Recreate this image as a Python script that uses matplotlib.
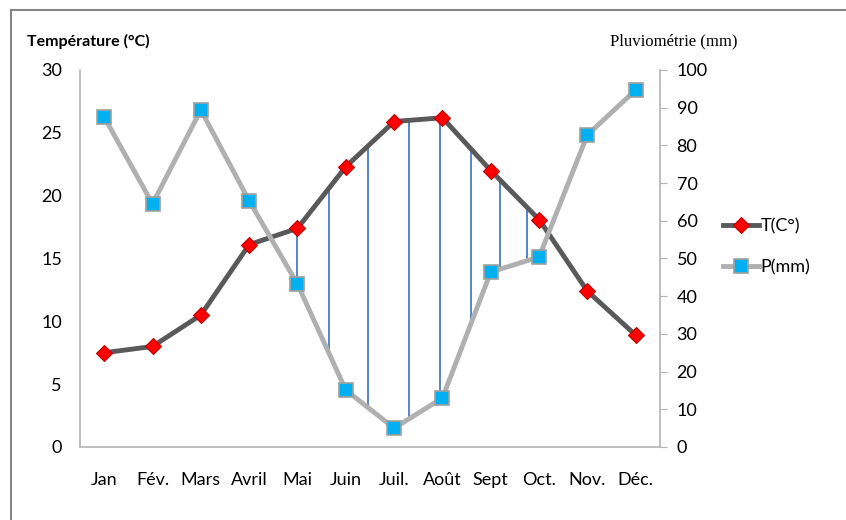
import numpy as np
import matplotlib
matplotlib.use('Agg')
import matplotlib.pyplot as plt
from matplotlib.lines import Line2D

# Données climatiques mensuelles
mois = ['Jan', 'Fév.', 'Mars', 'Avril', 'Mai', 'Juin', 'Juil.', 'Août', 'Sept', 'Oct.', 'Nov.', 'Déc.']
temperature = [7.5, 8.0, 10.5, 16.1, 17.4, 22.3, 25.9, 26.2, 22.0, 18.1, 12.4, 8.9]
pluie = [87.5, 64.5, 89.4, 65.3, 43.2, 15.1, 5.0, 13.0, 46.4, 50.4, 82.8, 94.7]
# positions (en mois) des hachures de la période sèche
hachures = [4.0, 4.65, 5.45, 6.3, 6.95, 7.6, 8.2, 8.75]

plt.rcParams['font.family'] = ['Lato', 'DejaVu Sans']

fig = plt.figure(figsize=(8.46, 5.20), dpi=100)
ax = fig.add_axes([0.0946, 0.1404, 0.6854, 0.725])
ax2 = ax.twinx()

x = np.arange(len(mois))

# hachures entre les deux courbes (P ramenée à l'échelle des températures)
p_scaled = np.array(pluie) * 30 / 100
for h in hachures:
    t_h = np.interp(h, x, temperature)
    p_h = np.interp(h, x, p_scaled)
    ax.plot([h, h], [p_h, t_h], color='#4a7cc4', lw=1.3, zorder=1)

ax.plot(x, temperature, color='#595959', lw=3.5, marker='D', ms=8.5,
        mfc='#ff0000', mec='#c00000', mew=0.8, zorder=4, label='T(C°)')
ax2.plot(x, pluie, color='#b0b0b0', lw=3.5, marker='s', ms=10.5,
         mfc='#00b0f0', mec='#a0a0a0', mew=1.2, zorder=3, label='P(mm)')

ax.set_xlim(-0.5, 11.5)
ax.set_ylim(0, 30)
ax2.set_ylim(0, 100)
ax.set_yticks(range(0, 31, 5))
ax2.set_yticks(range(0, 101, 10))
ax.set_xticks(x)
ax.set_xticklabels(mois)

for a in (ax, ax2):
    for s in a.spines.values():
        s.set_visible(False)
ax.spines['left'].set_visible(True)
ax.spines['bottom'].set_visible(True)
ax2.spines['right'].set_visible(True)
for s in ('left', 'bottom'):
    ax.spines[s].set_color('#b3b3b3')
    ax.spines[s].set_linewidth(1.2)
ax2.spines['right'].set_color('#b3b3b3')
ax2.spines['right'].set_linewidth(1.2)

ax.tick_params(axis='both', length=0, labelsize=13, colors='#000000')
ax.tick_params(axis='y', pad=13)
ax.tick_params(axis='x', pad=18)
ax2.tick_params(axis='y', length=5, color='#b3b3b3', labelsize=13, pad=7)

fig.text(0.032, 0.921, 'Température (°C)', fontsize=11.5, fontweight='bold', ha='left', va='center')
fig.text(0.721, 0.921, 'Pluviométrie (mm)', fontsize=12, family='Liberation Serif', ha='left', va='center')

# légende
h1, l1 = ax.get_legend_handles_labels()
h2, l2 = ax2.get_legend_handles_labels()
fig.legend(h1 + h2, l1 + l2, loc='center left', bbox_to_anchor=(0.835, 0.525),
           frameon=False, fontsize=13, handlelength=2.0, handletextpad=0.1, labelspacing=1.35)

# cadre
fig.add_artist(Line2D([0.013, 1.0], [0.981, 0.981], transform=fig.transFigure, color='#868686', lw=1.5))
fig.add_artist(Line2D([0.013, 0.013], [0.0, 0.981], transform=fig.transFigure, color='#868686', lw=1.5))

fig.savefig('out.png', dpi=100)
